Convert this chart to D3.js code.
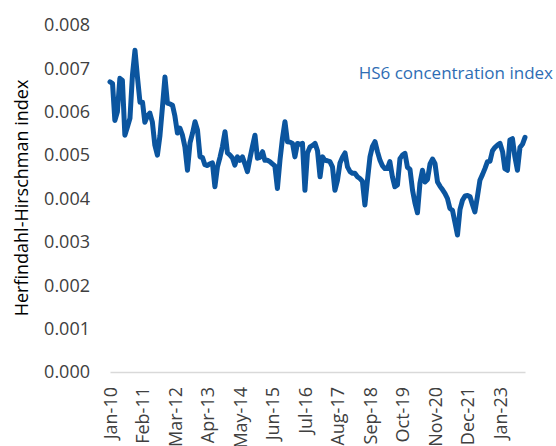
<!DOCTYPE html>
<html>
<head>
<meta charset="utf-8">
<script src="https://cdn.jsdelivr.net/npm/d3@7"></script>
<style>
  body { margin: 0; background: #fff; }
  text { font-family: "Open Sans", "Noto Sans", sans-serif; }
</style>
</head>
<body>
<div id="chart"></div>
<script>
// monthly series, Jan-10 .. Nov-23
let firstMonth = "Jan-10";
let hhi = [
  0.00669, 0.00665, 0.00580, 0.00600, 0.00677, 0.00672, 0.00546, 0.00565, 0.00585, 0.00684,
  0.00742, 0.00680, 0.00622, 0.00622, 0.00576, 0.00590, 0.00597, 0.00576, 0.00523, 0.00500,
  0.00545, 0.00610, 0.00680, 0.00620, 0.00618, 0.00615, 0.00590, 0.00551, 0.00562, 0.00546,
  0.00519, 0.00465, 0.00528, 0.00550, 0.00577, 0.00558, 0.00496, 0.00494, 0.00478, 0.00476,
  0.00480, 0.00482, 0.00427, 0.00473, 0.00495, 0.00520, 0.00554, 0.00505, 0.00500, 0.00493,
  0.00477, 0.00496, 0.00488, 0.00496, 0.00480, 0.00462, 0.00493, 0.00520, 0.00546, 0.00493,
  0.00495, 0.00508, 0.00488, 0.00488, 0.00485, 0.00480, 0.00475, 0.00423, 0.00488, 0.00538,
  0.00577, 0.00531, 0.00530, 0.00527, 0.00496, 0.00527, 0.00525, 0.00527, 0.00419, 0.00505,
  0.00519, 0.00522, 0.00527, 0.00510, 0.00450, 0.00496, 0.00488, 0.00487, 0.00485, 0.00473,
  0.00419, 0.00442, 0.00482, 0.00495, 0.00505, 0.00473, 0.00462, 0.00458, 0.00458, 0.00450,
  0.00446, 0.00440, 0.00385, 0.00442, 0.00496, 0.00520, 0.00531, 0.00508, 0.00488, 0.00475,
  0.00469, 0.00469, 0.00485, 0.00450, 0.00427, 0.00431, 0.00492, 0.00500, 0.00504, 0.00472,
  0.00467, 0.00419, 0.00390, 0.00367, 0.00435, 0.00465, 0.00438, 0.00444, 0.00480, 0.00491,
  0.00480, 0.00438, 0.00428, 0.00420, 0.00412, 0.00400, 0.00377, 0.00373, 0.00345, 0.00316,
  0.00375, 0.00396, 0.00406, 0.00407, 0.00404, 0.00385, 0.00369, 0.00405, 0.00442, 0.00455,
  0.00469, 0.00485, 0.00486, 0.00510, 0.00518, 0.00523, 0.00527, 0.00508, 0.00469, 0.00465,
  0.00535, 0.00538, 0.00496, 0.00465, 0.00518, 0.00525, 0.00541
];
let xTickLabels = ["Jan-10", "Feb-11", "Mar-12", "Apr-13", "May-14", "Jun-15", "Jul-16",
                   "Aug-17", "Sep-18", "Oct-19", "Nov-20", "Dec-21", "Jan-23"];
let yTicks = [0, 0.001, 0.002, 0.003, 0.004, 0.005, 0.006, 0.007, 0.008];
let seriesName = "HS6 concentration index";
let yTitle = "Herfindahl-Hirschman index";

let w = 556,
    h = 446;

let margin = { top: 25, bottom: 74, left: 110, right: 31 };

let parseMonth = d3.timeParse("%b-%y");
let start = parseMonth(firstMonth);
let months = hhi.map((v, i) => d3.timeMonth.offset(start, i));

let svg = d3.select("#chart")
            .append("svg")
            .attr("width", w)
            .attr("height", h);

let x = d3.scaleTime()
          .domain([months[0], months[months.length - 1]])
          .range([margin.left, w - margin.right]);

let y = d3.scaleLinear()
          .domain([0, 0.008])
          .range([h - margin.bottom, margin.top]);

// y axis labels (no axis line)
let yAxis = svg.append("g")
               .attr("transform", `translate(${margin.left}, 0)`)
               .call(d3.axisLeft(y).tickValues(yTicks).tickFormat(d3.format(".3f")).tickSize(0).tickPadding(20));
yAxis.select(".domain").remove();
yAxis.selectAll("text")
     .style("font-size", "18px")
     .style("fill", "#404040")
     .style("font-family", "'Open Sans', sans-serif");

// x axis: light grey baseline, rotated month labels
let xAxis = svg.append("g")
               .attr("transform", `translate(0, ${h - margin.bottom})`)
               .call(d3.axisBottom(x).tickValues(xTickLabels.map(parseMonth)).tickFormat(d3.timeFormat("%b-%y")).tickSize(0).tickPadding(0));
xAxis.select(".domain")
     .attr("stroke", "#d9d9d9")
     .attr("stroke-width", 1.5);
xAxis.selectAll("text")
     .attr("transform", "rotate(-90)")
     .attr("x", -15)
     .attr("y", 0)
     .attr("dy", "0.35em")
     .style("text-anchor", "end")
     .style("font-size", "18px")
     .style("fill", "#404040")
     .style("font-family", "'Open Sans', sans-serif");

// y title
svg.append("text")
   .attr("transform", `translate(22, 198) rotate(-90)`)
   .attr("text-anchor", "middle")
   .attr("dy", "0.35em")
   .style("font-size", "18px")
   .style("fill", "#000")
   .text(yTitle);

// the line
let line = d3.line()
             .x((d, i) => x(months[i]))
             .y(d => y(d));

svg.append("path")
   .datum(hhi)
   .attr("d", line)
   .attr("fill", "none")
   .attr("stroke", "#0b559f")
   .attr("stroke-width", 5)
   .attr("stroke-linejoin", "round")
   .attr("stroke-linecap", "round");

// series label
svg.append("text")
   .attr("x", 553)
   .attr("y", 73)
   .attr("dy", "0.35em")
   .attr("text-anchor", "end")
   .style("font-size", "17px")
   .style("fill", "#2e6db4")
   .text(seriesName);
</script>
</body>
</html>
